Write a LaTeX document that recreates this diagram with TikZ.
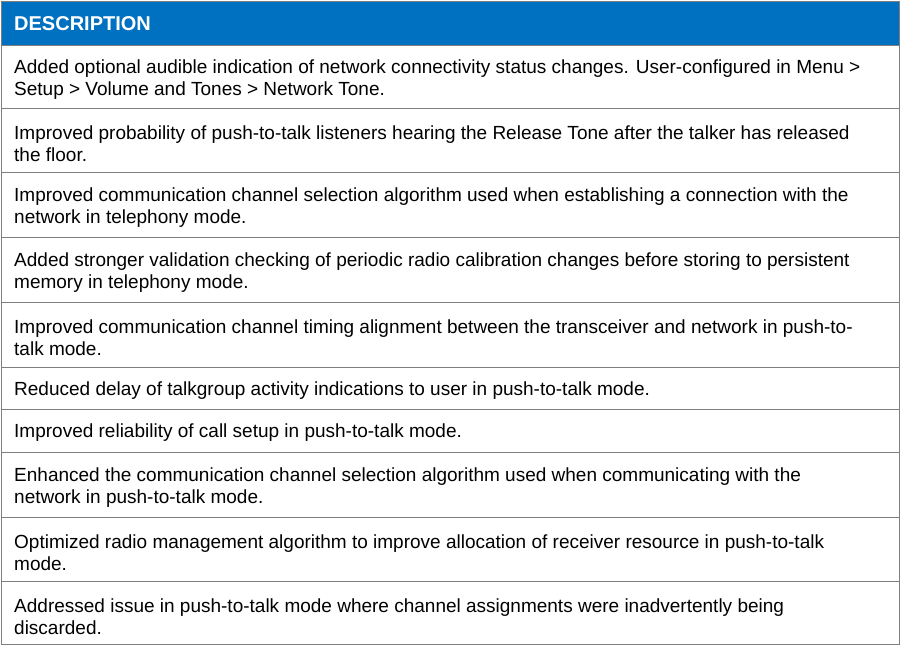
\documentclass[tikz,border=0pt]{standalone}
\usepackage{fontspec}
\setmainfont{Liberation Sans}
\definecolor{hdr}{HTML}{0070C0}
\definecolor{grid}{HTML}{7F7F7F}
\begin{document}
\begin{tikzpicture}[x=1pt,y=-1pt,
  cell/.style={anchor=west,align=left,inner sep=0pt,font=\fontsize{19}{22}\selectfont},
  rowline/.style={draw=grid,line width=0.8pt}]
\useasboundingbox (0,0) rectangle (900,645);
\fill[hdr] (1,1) rectangle (899,45);
\node[anchor=west,inner sep=0pt,text=white,font=\fontsize{20}{22}\selectfont\bfseries] (h) at (14,24) {DESCRIPTION};
\foreach \y in {45,108,172,237,302,367,409,452,517,581}{\draw[rowline] (1,\y) -- (899,\y);}
\draw[grid,line width=1pt] (1,1) rectangle (899,644);
\node[cell] (r1) at (14,80) {Added optional audible indication of network connectivity status changes. User-configured in Menu >\\Setup > Volume and Tones > Network Tone.};
\node[cell] (r2) at (14,144) {Improved probability of push-to-talk listeners hearing the Release Tone after the talker has released\\the floor.};
\node[cell] (r3) at (14,208) {Improved communication channel selection algorithm used when establishing a connection with the\\network in telephony mode.};
\node[cell] (r4) at (14,273) {Added stronger validation checking of periodic radio calibration changes before storing to persistent\\memory in telephony mode.};
\node[cell] (r5) at (14,338) {Improved communication channel timing alignment between the transceiver and network in push-to-\\talk mode.};
\node[cell] (r6) at (14,391) {Reduced delay of talkgroup activity indications to user in push-to-talk mode.};
\node[cell] (r7) at (14,433) {Improved reliability of call setup in push-to-talk mode.};
\node[cell] (r8) at (14,488) {Enhanced the communication channel selection algorithm used when communicating with the\\network in push-to-talk mode.};
\node[cell] (r9) at (14,553) {Optimized radio management algorithm to improve allocation of receiver resource in push-to-talk\\mode.};
\node[cell] (r10) at (14,617) {Addressed issue in push-to-talk mode where channel assignments were inadvertently being\\discarded.};
\end{tikzpicture}
\end{document}
